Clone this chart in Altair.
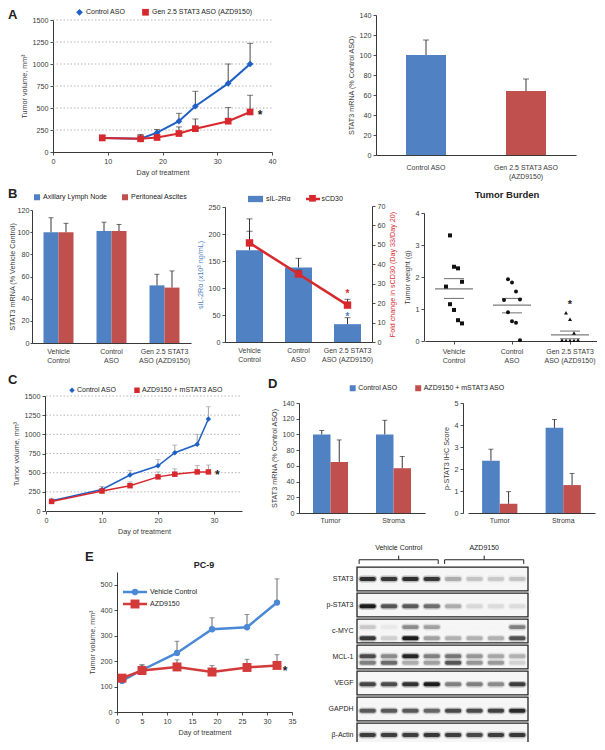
import altair as alt
import pandas as pd

W, H = 589, 734
FONT = "Liberation Sans"
INK = "#222222"
GREY = "#3a3a3a"
BLUE_BAR = "#4f81c3"
RED_BAR = "#c0504d"
BLUE_LINE = "#1f60c4"
RED_LINE = "#d7282d"
BLUE_E = "#4b89d6"
RED_E = "#d33a3a"
FS = 7.2

# ====================== DATA ======================
# A (left): tumour volume
a_days = [9, 16, 19, 23, 26, 32, 36]
a_control = [160, 150, 220, 350, 520, 780, 1000]
a_control_hi = [190, 200, 255, 440, 690, 1000, 1235]
a_azd = [160, 150, 165, 210, 265, 350, 455]
a_azd_hi = [190, 190, 195, 285, 375, 505, 645]
a_names = ["Control ASO", "Gen 2.5 STAT3 ASO (AZD9150)"]
a_star = [37.8, 455]
a_xticks = [0, 10, 20, 30, 40]
a_yticks = [0, 250, 500, 750, 1000, 1250, 1500]

# A (right): STAT3 mRNA
ar_groups = ["Control ASO", "Gen 2.5 STAT3 ASO\n(AZD9150)"]
ar_values = [100, 64]
ar_hi = [115, 76]
ar_yticks = [0, 20, 40, 60, 80, 100, 120, 140]

# B: shared groups
b_groups = ["Vehicle\nControl", "Control\nASO", "Gen 2.5 STAT3\nASO (AZD9150)"]
# B (left)
bl_names = ["Axillary Lymph Node", "Peritoneal Ascites"]
bl_axillary = [100, 101, 52]
bl_axillary_hi = [113, 109, 62]
bl_peritoneal = [100, 101, 50]
bl_peritoneal_hi = [108, 107, 65]
bl_yticks = [0, 20, 40, 60, 80, 100, 120]
# B (middle)
bm_names = ["sIL-2Rα", "sCD30"]
bm_il2 = [170, 138, 33]
bm_il2_hi = [228, 155, 45]
bm_cd30 = [51, 35, 19]
bm_cd30_hi = [57, 37, 22]
bm_left_ticks = [0, 50, 100, 150, 200, 250]
bm_right_ticks = [0, 10, 20, 30, 40, 50, 60, 70]
bm_star_il2 = 52
bm_star_cd30 = 25
# B (right): tumour burden
tb_vehicle = [3.3, 2.32, 2.27, 1.85, 1.7, 1.15, 0.97, 0.65, 0.55]
tb_control = [1.93, 1.83, 1.55, 1.3, 1.28, 0.9, 0.62, 0.57, 0.02]
tb_gen = [0.88, 0.68, 0.25, 0.02, 0.02, 0.02, 0.02, 0.02, 0.02, 0.02]
tb_mean = [1.63, 1.12, 0.19]
tb_sem_lo = [1.33, 0.88, 0.07]
tb_sem_hi = [1.95, 1.33, 0.31]
tb_star = 1.22
tb_yticks = [0, 1, 2, 3, 4]

# C
c_days = [1, 10, 15, 20, 23, 27, 29]
c_control = [135, 280, 470, 590, 760, 870, 1200]
c_control_hi = [150, 320, 530, 670, 860, 1000, 1360]
c_azd = [125, 260, 330, 445, 480, 510, 510]
c_azd_hi = [140, 275, 380, 510, 550, 595, 600]
c_names = ["Control ASO", "AZD9150 + mSTAT3 ASO"]
c_star = [30.6, 515]
c_xticks = [0, 10, 20, 30]
c_yticks = [0, 250, 500, 750, 1000, 1250, 1500]

# D
d_groups = ["Tumor", "Stroma"]
d_mrna_ctrl = [100, 100]
d_mrna_ctrl_hi = [105, 118]
d_mrna_azd = [65, 57]
d_mrna_azd_hi = [93, 72]
d_mrna_ticks = [0, 20, 40, 60, 80, 100, 120, 140]
d_ihc_ctrl = [2.38, 3.87]
d_ihc_ctrl_hi = [2.9, 4.25]
d_ihc_azd = [0.42, 1.27]
d_ihc_azd_hi = [0.97, 1.8]
d_ihc_ticks = [0, 1, 2, 3, 4, 5]

# E (PC-9)
e_days = [1, 5, 12, 19, 26, 32]
e_vehicle = [122, 165, 232, 325, 333, 430]
e_vehicle_hi = [122, 185, 278, 370, 383, 523]
e_azd = [133, 163, 177, 157, 175, 183]
e_azd_hi = [133, 185, 205, 182, 207, 225]
e_names = ["Vehicle Control", "AZD9150"]
e_star = [33.6, 172]
e_xticks = [0, 5, 10, 15, 20, 25, 30, 35]
e_yticks = [0, 100, 200, 300, 400, 500]

# E western blot (band intensity 0-1 for lanes 1-8)
blot_proteins = ["STAT3", "p-STAT3", "c-MYC", "MCL-1", "VEGF", "GAPDH", "β-Actin"]
blot_lanes = [1, 2, 3, 4, 5, 6, 7, 8]
stat3_band = [0.9, 0.85, 0.9, 0.85, 0.3, 0.2, 0.18, 0.2]
pstat3_band = [1.0, 0.7, 0.68, 0.58, 0.3, 0.12, 0.1, 0.1]
cmyc_upper = [0.18, 0.05, 0.45, 0.35, 0.0, 0.0, 0.0, 0.5]
cmyc_lower = [0.85, 0.15, 1.0, 0.35, 0.28, 0.28, 0.28, 0.72]
mcl1_upper = [0.75, 0.45, 0.95, 0.5, 0.55, 0.4, 0.33, 0.28]
mcl1_lower = [0.5, 0.6, 0.3, 0.35, 0.7, 0.4, 0.38, 0.14]
vegf_band = [0.78, 0.75, 0.88, 1.0, 0.5, 0.5, 0.45, 0.82]
gapdh_band = [0.68, 0.68, 0.68, 0.62, 0.75, 0.75, 0.8, 0.92]
actin_band = [0.82, 0.82, 0.82, 0.85, 0.82, 0.76, 0.82, 0.85]
# migration position of each band within the strips (strip index + fraction)
blot_band_list = [
    ("STAT3", 0.5, stat3_band), ("p-STAT3", 1.55, pstat3_band),
    ("c-MYC", 2.35, cmyc_upper), ("c-MYC", 2.78, cmyc_lower),
    ("MCL-1", 3.47, mcl1_upper), ("MCL-1", 3.72, mcl1_lower),
    ("VEGF", 4.55, vegf_band), ("GAPDH", 5.57, gapdh_band), ("β-Actin", 6.5, actin_band),
]
blot_groups = ["Vehicle Control", "AZD9150"]
blot_group_first = [1, 5]
blot_group_last = [4, 8]

# ====================== HELPERS ======================
def lin(domain, rng):
    return alt.Scale(domain=domain, range=rng, nice=False, zero=False)


def band(domain, rng, pi=0.0, po=0.0):
    return alt.Scale(domain=domain, range=rng, paddingInner=pi, paddingOuter=po)


AX = dict(grid=False, tickSize=3, tickWidth=0.8, domainWidth=0.9, labelFontSize=FS,
          titleFontSize=FS, titleFontWeight="normal", labelColor=GREY, titleColor=GREY,
          domainColor=INK, tickColor=INK, labelFont=FONT, titleFont=FONT,
          labelPadding=2, titlePadding=4, labelLineHeight=9, labelFlush=False,
          labelOverlap=False)


def axis(orient, off, **kw):
    d = dict(AX)
    d.update(kw)
    return alt.Axis(orient=orient, offset=off, **d)


def axb(ypix, **kw):
    return axis("bottom", ypix - H, **kw)


def axl(xpix, **kw):
    return axis("left", -xpix, **kw)


def axr(xpix, **kw):
    return axis("right", xpix - W, **kw)


SPLIT = "split(datum.label, '\\n')"
CAT = dict(title=None, labelExpr=SPLIT, labelAngle=0, labelAlign="center", labelBaseline="top",
           labelFontSize=7)


def leg(x, y, **kw):
    d = dict(orient="none", legendX=x, legendY=y, title=None, direction="horizontal",
             labelFont=FONT, labelFontSize=7, labelColor=INK, columnPadding=16,
             labelOffset=3, symbolStrokeWidth=0, padding=0)
    d.update(kw)
    return alt.Legend(**d)


def series_df(days, names, vals, his):
    rows = []
    for n, v, h in zip(names, vals, his):
        for d, a, b in zip(days, v, h):
            rows.append({"day": d, "series": n, "value": a, "hi": b})
    return pd.DataFrame(rows)


def star_layer(df, X, Y, color=INK, size=12, dy=3):
    return alt.Chart(df).mark_text(text="*", font=FONT, fontSize=size, fontWeight="bold",
                                   color=color, baseline="middle", dy=dy).encode(x=X, y=Y)


def line_panel(df, names, colors, shapes, msize, xs, ys, xdom, xaxis, yaxis, errc, lw, cap,
               legend, star, grid_ticks):
    X = alt.X("day:Q", scale=xs, axis=None)
    Y = alt.Y("value:Q", scale=ys, axis=None)
    cs = alt.Scale(domain=names, range=colors)
    out = []
    g = pd.DataFrame({"tick": grid_ticks})
    out.append(alt.Chart(g).transform_calculate(x0=str(xdom[0]), x1=str(xdom[1]))
               .mark_rule(color="#a5a5a5", strokeWidth=0.8, strokeDash=[1.5, 2])
               .encode(x=alt.X("x0:Q", scale=xs, axis=None), x2="x1:Q",
                       y=alt.Y("tick:Q", scale=ys, axis=None)))
    base = alt.Chart(df)
    out.append(base.mark_rule(color=errc, strokeWidth=0.9).encode(x=X, y=Y, y2="hi:Q"))
    out.append(base.mark_tick(color=errc, size=cap, thickness=0.9, orient="horizontal")
               .encode(x=X, y=alt.Y("hi:Q", scale=ys, axis=None)))
    out.append(base.mark_line(strokeWidth=lw).encode(
        x=alt.X("day:Q", scale=xs, axis=xaxis), y=alt.Y("value:Q", scale=ys, axis=yaxis),
        color=alt.Color("series:N", scale=cs, legend=None)))
    out.append(base.mark_point(filled=True, opacity=1, size=msize).encode(
        x=X, y=Y,
        color=alt.Color("series:N", scale=cs, legend=legend),
        shape=alt.Shape("series:N", scale=alt.Scale(domain=names, range=shapes), legend=legend)))
    sdf = pd.DataFrame({"day": [star[0]], "value": [star[1]]})
    out.append(star_layer(sdf, X, Y))
    return out


def grouped(groups, names, vals_list, hi_list, xs, ys, colors, po, xaxis, yaxis, legend):
    rows = []
    for n, vals, his in zip(names, vals_list, hi_list):
        for g, v, h in zip(groups, vals, his):
            rows.append({"group": g, "series": n, "value": v, "hi": h})
    df = pd.DataFrame(rows)
    xo = alt.XOffset("series:N", scale=alt.Scale(domain=names, paddingOuter=po, paddingInner=0))
    X = alt.X("group:N", scale=xs, axis=None)
    Y = alt.Y("value:Q", scale=ys, axis=None)
    base = alt.Chart(df)
    return [
        base.mark_bar().encode(
            x=alt.X("group:N", scale=xs, axis=xaxis), xOffset=xo,
            y=alt.Y("value:Q", scale=ys, axis=yaxis),
            color=alt.Color("series:N", scale=alt.Scale(domain=names, range=colors), legend=legend)),
        base.mark_rule(color=INK, strokeWidth=0.9).encode(x=X, xOffset=xo, y=Y, y2="hi:Q"),
        base.mark_tick(color=INK, size=5, thickness=0.9, orient="horizontal").encode(
            x=X, xOffset=xo, y=alt.Y("hi:Q", scale=ys, axis=None)),
    ]


def label(text, x, y, size=13, weight="bold", align="left", baseline="top", color=INK):
    return alt.Chart(pd.DataFrame({"t": [text]})).mark_text(
        font=FONT, fontSize=size, fontWeight=weight, align=align, baseline=baseline, color=color
    ).encode(text="t:N", x=alt.value(x), y=alt.value(y))


layers = []

# ====================== PANEL A (left) ======================
a_xs = lin([0, 40], [45, 264])
a_ys = lin([0, 1500], [144, 12])
layers += line_panel(
    series_df(a_days, a_names, [a_control, a_azd], [a_control_hi, a_azd_hi]),
    a_names, [BLUE_LINE, RED_LINE], ["diamond", "square"], 45, a_xs, a_ys, [0, 40],
    axb(144, values=a_xticks, title="Day of treatment"),
    axl(45, values=a_yticks, title="Tumor volume, mm³", format="d"),
    "#333333", 2, 6, leg(68, 0.7, symbolSize=45), a_star, a_yticks[1:])

# ====================== PANEL A (right) ======================
ar_df = pd.DataFrame({"group": ar_groups, "value": ar_values, "hi": ar_hi})
ar_xs = band(ar_groups, [368, 568])
ar_ys = lin([0, 140], [147, 7])
layers += [
    alt.Chart(ar_df).mark_bar(size=40).encode(
        x=alt.X("group:N", scale=ar_xs, axis=axb(147, ticks=False, tickSize=0, labelPadding=8, **CAT)),
        y=alt.Y("value:Q", scale=ar_ys, axis=axl(368, values=ar_yticks, title="STAT3 mRNA (% Control ASO)")),
        color=alt.Color("group:N", scale=alt.Scale(domain=ar_groups, range=[BLUE_BAR, RED_BAR]), legend=None)),
    alt.Chart(ar_df).mark_rule(color=INK, strokeWidth=0.9).encode(
        x=alt.X("group:N", scale=ar_xs, axis=None), y=alt.Y("value:Q", scale=ar_ys, axis=None), y2="hi:Q"),
    alt.Chart(ar_df).mark_tick(color=INK, size=6, thickness=0.9, orient="horizontal").encode(
        x=alt.X("group:N", scale=ar_xs, axis=None), y=alt.Y("hi:Q", scale=ar_ys, axis=None)),
]

# ====================== PANEL B (left) ======================
layers += grouped(
    b_groups, bl_names, [bl_axillary, bl_peritoneal], [bl_axillary_hi, bl_peritoneal_hi],
    band(b_groups, [24, 183]), lin([0, 120], [335, 202]), [BLUE_BAR, RED_BAR], 0.767,
    axb(335, ticks=False, tickSize=0, labelPadding=4, **CAT),
    axl(24, values=bl_yticks, title="STAT3 mRNA (% Vehicle Control)", tickSize=2,
        labelPadding=1, titlePadding=1),
    leg(25.5, 185.5, symbolType="square", symbolSize=36, labelOffset=2.5, columnPadding=14))

# ====================== PANEL B (middle) ======================
bm_df = pd.DataFrame({"group": b_groups, "il2": bm_il2, "il2_hi": bm_il2_hi,
                      "cd30": bm_cd30, "cd30_hi": bm_cd30_hi,
                      "s1": [bm_names[0]] * 3, "s2": [bm_names[1]] * 3})
bm_xs = band(b_groups, [217, 364])
bm_yl = lin([0, 250], [334, 199])
bm_yr = lin([0, 70], [334, 198])
BX = alt.X("group:N", scale=bm_xs, axis=None)
bm = alt.Chart(bm_df)
layers += [
    bm.mark_bar(size=27).encode(
        x=alt.X("group:N", scale=bm_xs, axis=axb(334, ticks=False, tickSize=0, labelPadding=4, **CAT)),
        y=alt.Y("il2:Q", scale=bm_yl, axis=axl(217, values=bm_left_ticks, title="sIL-2Rα (x10³ ng/mL)",
                                             titleColor=BLUE_BAR)),
        color=alt.Color("s1:N", scale=alt.Scale(domain=[bm_names[0]], range=[BLUE_BAR]),
                        legend=leg(240, 183.5, symbolType="M-1,-0.42H1V0.42H-1Z", symbolSize=225))),
    bm.mark_rule(color=INK, strokeWidth=0.9).encode(x=BX, y=alt.Y("il2:Q", scale=bm_yl, axis=None), y2="il2_hi:Q"),
    bm.mark_tick(color=INK, size=6, thickness=0.9, orient="horizontal").encode(
        x=BX, y=alt.Y("il2_hi:Q", scale=bm_yl, axis=None)),
    bm.mark_rule(color=INK, strokeWidth=0.9).encode(x=BX, y=alt.Y("cd30:Q", scale=bm_yr, axis=None), y2="cd30_hi:Q"),
    bm.mark_tick(color=INK, size=6, thickness=0.9, orient="horizontal").encode(
        x=BX, y=alt.Y("cd30_hi:Q", scale=bm_yr, axis=None)),
    bm.mark_line(strokeWidth=2.5).encode(
        x=BX,
        y=alt.Y("cd30:Q", scale=bm_yr, axis=axr(364, values=bm_right_ticks,
                                                title="Fold change in sCD30 (Day 33/Day 20)",
                                                titleColor=RED_LINE, titleAngle=270, titleBaseline="top")),
        color=alt.Color("s2:N", scale=alt.Scale(domain=[bm_names[1]], range=[RED_LINE]),
                        legend=leg(296.5, 182.5, symbolType="stroke", symbolSize=196,
                                   symbolStrokeWidth=2.5, labelOffset=0))),
    bm.mark_point(filled=True, opacity=1, shape="square", size=55).encode(
        x=BX, y=alt.Y("cd30:Q", scale=bm_yr, axis=None),
        color=alt.Color("s2:N", scale=alt.Scale(domain=[bm_names[1]], range=[RED_LINE]),
                        legend=leg(301, 186.8, symbolType="square", symbolSize=45, labelExpr="''"))),
    star_layer(pd.DataFrame({"group": [b_groups[2]], "v": [bm_star_il2]}), BX,
               alt.Y("v:Q", scale=bm_yl, axis=None), color=BLUE_BAR, size=10, dy=3),
    star_layer(pd.DataFrame({"group": [b_groups[2]], "v": [bm_star_cd30]}), BX,
               alt.Y("v:Q", scale=bm_yr, axis=None), color=RED_LINE, size=10, dy=1),
]

# ====================== PANEL B (right): tumour burden ======================
tb_rows = []
for g, vals in zip(b_groups, [tb_vehicle, tb_control, tb_gen]):
    for v in vals:
        tb_rows.append({"group": g, "w": v})
tb_df = pd.DataFrame(tb_rows)
tb_stats = pd.DataFrame({"group": b_groups, "mean": tb_mean, "lo": tb_sem_lo, "hi": tb_sem_hi})
tb_xs = band(b_groups, [417, 591])
tb_ys = lin([0, 4], [333, 205])
TX = alt.X("group:N", scale=tb_xs, axis=None)
layers += [
    alt.Chart(tb_stats).mark_tick(color="#444444", size=38, thickness=1.1, orient="horizontal").encode(
        x=TX, y=alt.Y("mean:Q", scale=tb_ys, axis=None)),
    alt.Chart(tb_stats).transform_fold(["lo", "hi"], as_=["k", "sem"]).mark_tick(
        color="#444444", size=20, thickness=1.1, orient="horizontal").encode(
        x=TX, y=alt.Y("sem:Q", scale=tb_ys, axis=None)),
    alt.Chart(tb_df).transform_window(rn="row_number()", groupby=["group"])
    .transform_calculate(jit="datum.rn % 5")
    .mark_point(filled=True, opacity=1, size=16, color="#111111").encode(
        x=alt.X("group:N", scale=tb_xs, axis=axb(333, ticks=True, labelPadding=3, **CAT)),
        xOffset=alt.XOffset("jit:N", scale=alt.Scale(domain=[0, 1, 2, 3, 4], range=[21, 37],
                                                     paddingOuter=0, paddingInner=0)),
        y=alt.Y("w:Q", scale=tb_ys, axis=axl(416, values=tb_yticks, title="Tumor weight (g)")),
        shape=alt.Shape("group:N", scale=alt.Scale(domain=b_groups, range=["square", "circle", "triangle-up"]),
                        legend=None)),
    star_layer(pd.DataFrame({"group": [b_groups[2]], "v": [tb_star]}), TX,
               alt.Y("v:Q", scale=tb_ys, axis=None), size=11),
    label("Tumor Burden", 499, 187, size=9.5, align="center", baseline="middle"),
]

# ====================== PANEL C ======================
c_xs = lin([0, 35], [38, 234])
c_ys = lin([0, 1500], [503, 388])
layers += line_panel(
    series_df(c_days, c_names, [c_control, c_azd], [c_control_hi, c_azd_hi]),
    c_names, [BLUE_LINE, RED_LINE], ["diamond", "square"], 30, c_xs, c_ys, [0, 35],
    axb(503, values=c_xticks, title="Day of treatment"),
    axl(37, values=c_yticks, title="Tumor volume, mm³", format="d"),
    "#9a9a9a", 1.5, 5, leg(60.5, 378.5, symbolSize=30, labelOffset=1.5, columnPadding=17), c_star, c_yticks[1:])

# ====================== PANEL D ======================
layers += grouped(
    d_groups, c_names, [d_mrna_ctrl, d_mrna_azd], [d_mrna_ctrl_hi, d_mrna_azd_hi],
    band(d_groups, [291, 417]), lin([0, 140], [505, 395]), [BLUE_BAR, RED_BAR], 0.8,
    axb(505, ticks=False, tickSize=0, labelPadding=3, **CAT),
    axl(291, values=d_mrna_ticks, title="STAT3 mRNA (% Control ASO)"),
    leg(341.2, 376.5, symbolType="square", symbolSize=36, labelOffset=2, columnPadding=16.5))
layers += grouped(
    d_groups, c_names, [d_ihc_ctrl, d_ihc_azd], [d_ihc_ctrl_hi, d_ihc_azd_hi],
    band(d_groups, [460, 587]), lin([0, 5], [505, 395]), [BLUE_BAR, RED_BAR], 0.8,
    axb(505, ticks=False, tickSize=0, labelPadding=3, **CAT),
    axl(455, values=d_ihc_ticks, title="p-STAT3 IHC Score"),
    None)

# ====================== PANEL E (PC-9) ======================
e_xs = lin([0, 35], [109, 284])
e_ys = lin([0, 550], [704, 564])
EX = alt.X("day:Q", scale=e_xs, axis=None)
EY = alt.Y("value:Q", scale=e_ys, axis=None)
e_spec = [
    (e_names[0], e_vehicle, e_vehicle_hi, BLUE_E, "circle", 40, (113.5, 570.5), (123.5, 580.5)),
    (e_names[1], e_azd, e_azd_hi, RED_E, "square", 80, (113.5, 582.5), (122.5, 591.5)),
]
e_dfs = [series_df(e_days, [s[0]], [s[1]], [s[2]]) for s in e_spec]
for df in e_dfs:
    layers.append(alt.Chart(df).mark_rule(color="#555555", strokeWidth=0.9).encode(x=EX, y=EY, y2="hi:Q"))
    layers.append(alt.Chart(df).mark_tick(color="#555555", size=5, thickness=0.9, orient="horizontal").encode(
        x=EX, y=alt.Y("hi:Q", scale=e_ys, axis=None)))
for i, (s, df) in enumerate(zip(e_spec, e_dfs)):
    name, _, _, col, shp, msz, lpos, ppos = s
    if i == 0:
        xe = alt.X("day:Q", scale=e_xs, axis=axb(704, values=e_xticks, title="Day of treatment"))
        ye = alt.Y("value:Q", scale=e_ys, axis=axl(109, values=e_yticks, title="Tumor volume, mm³"))
    else:
        xe, ye = EX, EY
    layers.append(alt.Chart(df).mark_line(strokeWidth=2.5).encode(
        x=xe, y=ye,
        color=alt.Color("series:N", scale=alt.Scale(domain=[name], range=[col]),
                        legend=leg(lpos[0], lpos[1], symbolType="stroke", symbolSize=576,
                                   symbolStrokeWidth=2.5, labelOffset=1.5))))
for s, df in zip(e_spec, e_dfs):
    name, _, _, col, shp, msz, lpos, ppos = s
    layers.append(alt.Chart(df).mark_point(filled=True, opacity=1, shape=shp, size=msz).encode(
        x=EX, y=EY,
        color=alt.Color("series:N", scale=alt.Scale(domain=[name], range=[col]),
                        legend=leg(ppos[0], ppos[1], symbolType=shp, symbolSize=msz, labelExpr="''"))))
layers.append(star_layer(pd.DataFrame({"day": [e_star[0]], "value": [e_star[1]]}), EX, EY))
layers.append(label("PC-9", 196, 557, size=9, align="center", baseline="middle"))

# ====================== WESTERN BLOT ======================
lane_s = lin([0.5, 8.5], [349, 520])
row_s = lin([-1.5, 7], [519, 740])
prot_s = band(blot_proteins, [558, 740], pi=0.08, po=0.04)
band_rows = []
for prot, pos, vals in blot_band_list:
    for lane, v in zip(blot_lanes, vals):
        band_rows.append({"protein": prot, "pos": pos, "lane": lane, "intensity": v})
band_df = pd.DataFrame(band_rows)
gray = alt.Scale(domain=[0, 1], range=["#f5f5f5", "#1c1c1c"])
layers += [
    alt.Chart(pd.DataFrame({"protein": blot_proteins})).transform_calculate(x0="0.5", x1="8.5")
    .mark_rect(fill="#f6f6f6", stroke=INK, strokeWidth=1.3).encode(
        x=alt.X("x0:Q", scale=lane_s, axis=None), x2="x1:Q",
        y=alt.Y("protein:N", scale=prot_s,
                axis=axl(349, title=None, ticks=False, tickSize=0, domain=False, labelPadding=4,
                         labelFontSize=7, labelColor=INK))),
    alt.Chart(band_df).transform_calculate(
        l0="datum.lane - 0.44", l1="datum.lane + 0.44", r0="datum.pos - 0.13", r1="datum.pos + 0.13")
    .mark_rect(cornerRadius=4, opacity=0.3).encode(
        x=alt.X("l0:Q", scale=lane_s, axis=None), x2="l1:Q",
        y=alt.Y("r0:Q", scale=row_s, axis=None), y2="r1:Q",
        color=alt.Color("intensity:Q", scale=gray, legend=None)),
    alt.Chart(band_df).transform_calculate(
        l0="datum.lane - 0.38", l1="datum.lane + 0.38", r0="datum.pos - 0.075", r1="datum.pos + 0.075")
    .mark_rect(cornerRadius=2).encode(
        x=alt.X("l0:Q", scale=lane_s, axis=None), x2="l1:Q",
        y=alt.Y("r0:Q", scale=row_s, axis=None), y2="r1:Q",
        color=alt.Color("intensity:Q", scale=gray, legend=None)),
]
br_df = pd.DataFrame({"group": blot_groups, "first": blot_group_first, "last": blot_group_last})
br = alt.Chart(br_df).transform_calculate(
    s="datum.first - 0.4", e="datum.last + 0.3", m="(datum.first + datum.last) / 2 - 0.05",
    yb="-0.24", ye="-0.08", yt="-0.4", yl="-0.7")
layers += [
    br.mark_rule(color=INK, strokeWidth=1).encode(
        x=alt.X("s:Q", scale=lane_s, axis=None), x2="e:Q", y=alt.Y("yb:Q", scale=row_s, axis=None)),
    br.transform_fold(["s", "e"], as_=["k", "xe"]).mark_rule(color=INK, strokeWidth=1).encode(
        x=alt.X("xe:Q", scale=lane_s, axis=None), y=alt.Y("yb:Q", scale=row_s, axis=None), y2="ye:Q"),
    br.mark_rule(color=INK, strokeWidth=1).encode(
        x=alt.X("m:Q", scale=lane_s, axis=None), y=alt.Y("yb:Q", scale=row_s, axis=None), y2="yt:Q"),
    br.mark_text(font=FONT, fontSize=7, color=INK, baseline="middle", align="center").encode(
        x=alt.X("m:Q", scale=lane_s, axis=None), y=alt.Y("yl:Q", scale=row_s, axis=None), text="group:N"),
]

# ====================== PANEL LETTERS ======================
layers += [label("A", 0, 1), label("B", 0, 180), label("C", 0, 366), label("D", 260, 370), label("E", 77, 543)]

chart = alt.layer(*layers).resolve_scale(
    x="independent", y="independent", color="independent", shape="independent", xOffset="independent"
).properties(
    width=W, height=H, padding=0, autosize=alt.AutoSizeParams(type="none"), background="white"
).configure(font=FONT).configure_view(strokeWidth=0)

chart.save("out.html", embed_options={"renderer": "svg", "actions": False})
